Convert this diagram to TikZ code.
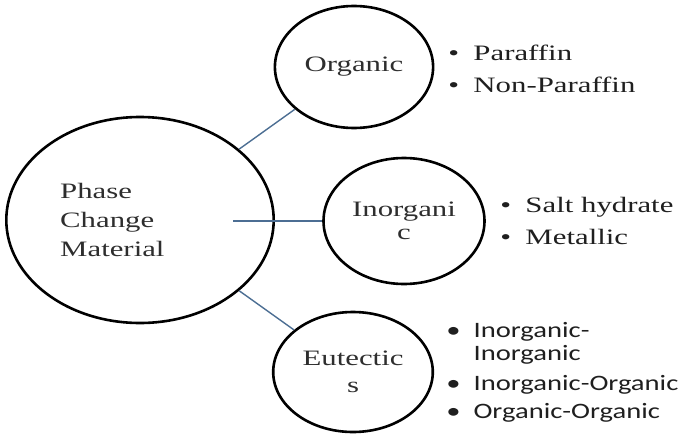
\documentclass[tikz,border=0pt]{standalone}
\usepackage{fontspec}
\setmainfont{Liberation Serif}
\usetikzlibrary{shapes.geometric}
\newfontfamily\listfont{Carlito}
\definecolor{linkblue}{HTML}{4C6E93}
\definecolor{inkgray}{HTML}{2E2E2E}
\newcommand\listdot[1]{\makebox[#1][l]{\textbullet}}
\newcommand\listgap[1]{\makebox[#1]{}}
\begin{document}
\begin{tikzpicture}[x=1pt,y=-1pt,
  bubble/.style={ellipse,draw=black,line width=2.6pt,inner sep=0pt,text=inkgray,xscale=1.4,
    font=\rmfamily\fontsize{22}{24}\selectfont,align=center},
  itemlist/.style={anchor=west,inner sep=0pt,align=left,text=black!88},
  link/.style={draw=linkblue,line width=1.4pt}]
\useasboundingbox (0,0) rectangle (684,436);
% bubbles
\node[bubble,minimum width=191pt,minimum height=206pt,text width=114pt,align=left,
  font=\rmfamily\fontsize{22}{29}\selectfont] (pcm) at (140,220) {Phase\\Change\\Material};
\node[bubble,minimum width=113pt,minimum height=122pt] (org) at (354,67) {Organic};
\node[bubble,minimum width=115pt,minimum height=126pt,
  font=\rmfamily\fontsize{22}{23}\selectfont] (inorg) at (404,221) {Inorgani\\c};
\node[bubble,minimum width=114pt,minimum height=120pt,
  font=\rmfamily\fontsize{22}{27}\selectfont] (eut) at (353,372) {Eutectic\\s};
% connectors
\coordinate (hub) at (233,221);
\draw[link] (pcm) -- (org);
\draw[link] (hub) -- (inorg);
\draw[link] (pcm) -- (eut);
% lists
\node[itemlist,xscale=1.4,font=\rmfamily\fontsize{22}{32}\selectfont] (orglist) at (448,69)
  {\listdot{18pt}Paraffin\\\listdot{18pt}Non-Paraffin};
\node[itemlist,xscale=1.4,font=\rmfamily\fontsize{22}{32}\selectfont] (inorglist) at (500,221)
  {\listdot{18pt}Salt hydrate\\\listdot{18pt}Metallic};
\node[itemlist,xscale=1.3,font=\listfont\fontsize{22}{23.5}\selectfont] (eutlist) at (446,372)
  {\listdot{21pt}Inorganic-\\\listgap{21pt}Inorganic\\[6pt]
   \listdot{21pt}Inorganic-Organic\\[4.5pt]\listdot{21pt}Organic-Organic};
\end{tikzpicture}
\end{document}
